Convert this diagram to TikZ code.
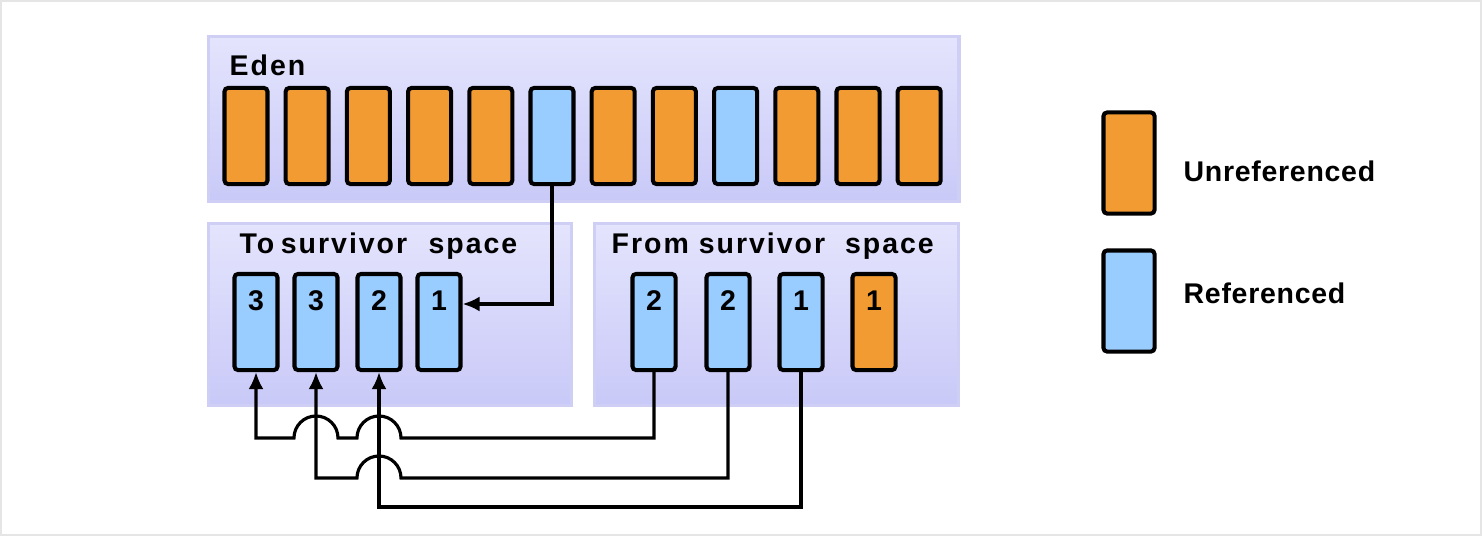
\documentclass[tikz,border=0pt]{standalone}
\usepackage{fontspec}
\setmainfont{Liberation Sans}
\newfontfamily\spacedfont[LetterSpace=7]{Liberation Sans}
\newfontfamily\keyfont[LetterSpace=2.5]{Liberation Sans}
\usepackage{xcolor}
\usepackage{tikz}
\usetikzlibrary{positioning,arrows.meta,calc}

\definecolor{unrefcol}{HTML}{F29B33}
\definecolor{refcol}{HTML}{99CCFF}
\definecolor{paneltop}{HTML}{E4E4FD}
\definecolor{panelbot}{HTML}{C9C9F8}
\definecolor{panelline}{HTML}{CFCFF6}

\begin{document}
\begin{tikzpicture}[
        x=0.01cm, y=-0.01cm,
        every node/.style={font=\bfseries\fontsize{8.1}{9}\selectfont},
        panel/.style={
            draw=panelline,
            line width=0.9pt,
            top color=paneltop,
            bottom color=panelbot,
            anchor=north west,
            inner sep=0pt
        },
        title/.style={anchor=base west, inner sep=0pt,
            font=\spacedfont\bfseries\fontsize{8.1}{9}\selectfont},
        keytext/.style={anchor=base west, inner sep=0pt,
            font=\keyfont\bfseries\fontsize{8.1}{9}\selectfont},
        objbox/.style={
            draw=black,
            line width=1.15pt,
            rounded corners=1pt,
            inner sep=0pt,
            minimum width=0.43cm,
            minimum height=0.96cm,
            text height=0.2cm,
            text depth=0.44cm
        },
        unrefbox/.style={objbox, fill=unrefcol},
        refbox/.style={objbox, fill=refcol},
        keybox/.style={
            draw=black,
            line width=1.15pt,
            rounded corners=1pt,
            minimum width=0.51cm,
            minimum height=1.01cm
        },
        link/.style={line width=0.9pt, draw=black},
        copyarrow/.style={link, -{Latex[length=0.17cm,width=0.15cm]}}
    ]
        \useasboundingbox (0,0) rectangle (1482,536);
        \draw[gray!20, line width=0.6pt] (1,1) rectangle (1481,535);

        % Panels
        \node[panel, minimum width=7.5cm, minimum height=1.65cm] (eden) at (207,35) {};
        \node[panel, minimum width=3.63cm, minimum height=1.82cm] (tospace) at (207,222) {};
        \node[panel, minimum width=3.64cm, minimum height=1.82cm] (fromspace) at (593,222) {};

        \node[title] (edentitle) at (229,75) {Eden};
        \node[title] (totitle) at (239,253) {To\hspace{-0.12em} survivor\hspace{0.75em}space};
        \node[title] (fromtitle) at (611,253) {From survivor\hspace{0.7em}space};

        % Eden objects
        \foreach \i/\kind in {1/unrefbox,2/unrefbox,3/unrefbox,4/unrefbox,5/unrefbox,6/refbox,
                              7/unrefbox,8/unrefbox,9/refbox,10/unrefbox,11/unrefbox,12/unrefbox}
            \node[\kind] (eden\i) at ({246+61.2*(\i-1)},136) {};

        % To survivor space
        \node[refbox] (toA) at (256,322) {3};
        \node[refbox] (toB) at (316,322) {3};
        \node[refbox] (toC) at (379,322) {2};
        \node[refbox] (toD) at (439,322) {1};

        % From survivor space
        \node[refbox] (fromA) at (654,322) {2};
        \node[refbox] (fromB) at (728,322) {2};
        \node[refbox] (fromC) at (801,322) {1};
        \node[unrefbox] (fromD) at (874,322) {1};

        % Legend
        \node[keybox, fill=unrefcol] (keyunref) at (1129,163) {};
        \node[keybox, fill=refcol] (keyref) at (1129,301) {};
        \node[keytext] (keyunreftext) at (1183,181) {Unreferenced};
        \node[keytext] (keyreftext) at (1183,303) {Referenced};

        % Copy arrows
        \coordinate (rowA) at (0,438);
        \coordinate (rowB) at (0,478);
        \coordinate (rowC) at (0,507);

        \draw[copyarrow] (eden6.south) |- ([yshift=0.18cm]toD.east);
        \draw[copyarrow] (fromA.south) |- ($(toC.south |- rowA)+(22,0)$)
            arc[start angle=0, end angle=180, radius=0.22cm]
            -- ($(toB.south |- rowA)+(22,0)$)
            arc[start angle=0, end angle=180, radius=0.22cm]
            -| (toA.south);
        \draw[copyarrow] (fromB.south) |- ($(toC.south |- rowB)+(22,0)$)
            arc[start angle=0, end angle=180, radius=0.22cm]
            -| (toB.south);
        \draw[copyarrow] (fromC.south) |- (rowC -| toC.south) -- (toC.south);

    \end{tikzpicture}
\end{document}
